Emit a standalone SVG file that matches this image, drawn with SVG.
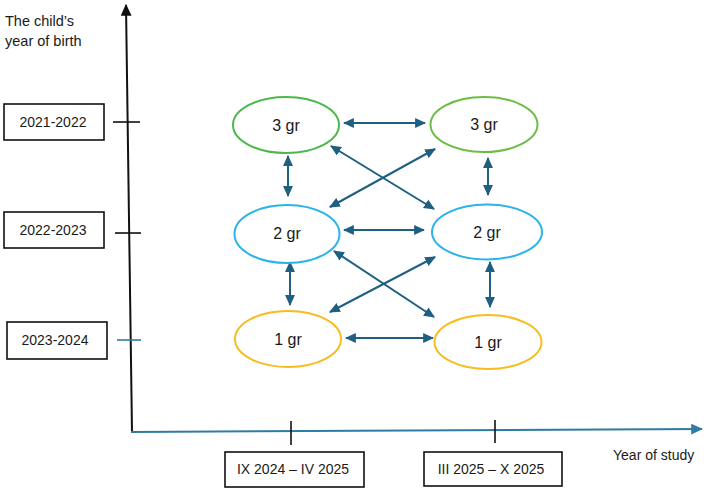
<svg xmlns="http://www.w3.org/2000/svg" width="706" height="491" viewBox="0 0 706 491">
<style>
text{font-family:"Liberation Sans",Arial,sans-serif;fill:#1a1a1a}
.box{fill:#fff;stroke:#111;stroke-width:1.6}
.lab{font-size:14px;text-anchor:middle}
.gr{font-size:16px;text-anchor:middle}
.con{stroke:#1f5f80;stroke-width:2;fill:none;marker-start:url(#ah);marker-end:url(#ah)}
.ell{fill:#fff;stroke-width:2}
</style>
<defs>
<marker id="ah" viewBox="0 0 10 10" refX="9" refY="5" markerWidth="11" markerHeight="11" markerUnits="userSpaceOnUse" orient="auto-start-reverse">
<path d="M0,0.5 L10,5 L0,9.5 Z" fill="#1f5f80"/>
</marker>
<marker id="axb" viewBox="0 0 10 10" refX="9" refY="5" markerWidth="12" markerHeight="12" markerUnits="userSpaceOnUse" orient="auto">
<path d="M0,0.5 L10,5 L0,9.5 Z" fill="#2e7ba5"/>
</marker>
<marker id="axk" viewBox="0 0 10 10" refX="9" refY="5" markerWidth="12" markerHeight="12" markerUnits="userSpaceOnUse" orient="auto">
<path d="M0,0.5 L10,5 L0,9.5 Z" fill="#111"/>
</marker>
</defs>

<g id="axes">
<line x1="132" y1="432" x2="126" y2="5" stroke="#111" stroke-width="2" marker-end="url(#axk)"/>
<line x1="131" y1="432" x2="702" y2="429" stroke="#2e7ba5" stroke-width="2" marker-end="url(#axb)"/>
<line x1="113" y1="122" x2="140" y2="122" stroke="#111" stroke-width="1.6"/>
<line x1="115" y1="233" x2="141" y2="233" stroke="#111" stroke-width="1.6"/>
<line x1="117" y1="340" x2="141" y2="340" stroke="#2e7ba5" stroke-width="1.6"/>
<line x1="291" y1="421" x2="291" y2="445" stroke="#111" stroke-width="1.6"/>
<line x1="495" y1="420" x2="495" y2="443" stroke="#111" stroke-width="1.6"/>
<text x="5" y="26" font-size="14.5px">The child’s</text>
<text x="5" y="46" font-size="14.5px">year of birth</text>
<text x="613" y="460" font-size="14px">Year of study</text>
</g>

<g id="by1"><rect class="box" x="4" y="104" width="100" height="36"/><text class="lab" x="53" y="127">2021-2022</text></g>
<g id="by2"><rect class="box" x="4" y="212" width="100" height="36"/><text class="lab" x="53" y="235">2022-2023</text></g>
<g id="by3"><rect class="box" x="7" y="322" width="100" height="37"/><text class="lab" x="55" y="345">2023-2024</text></g>

<g id="p1"><rect class="box" x="225" y="452" width="139" height="35"/><text class="lab" x="293" y="474">IX 2024 – IV 2025</text></g>
<g id="p2"><rect class="box" x="424" y="452" width="138" height="34"/><text class="lab" x="491" y="474">III 2025 – X 2025</text></g>

<g id="connectors">
<line class="con" x1="344" y1="123" x2="425" y2="123"/>
<line class="con" x1="344" y1="230" x2="424" y2="230"/>
<line class="con" x1="346" y1="338" x2="433" y2="338"/>
<line class="con" x1="288" y1="156" x2="288" y2="196"/>
<line class="con" x1="488" y1="158" x2="488" y2="195"/>
<line class="con" x1="290" y1="262" x2="290" y2="305"/>
<line class="con" x1="490" y1="262" x2="490" y2="307"/>
<line class="con" x1="331" y1="146" x2="434" y2="209"/>
<line class="con" x1="435" y1="149" x2="330" y2="207"/>
<line class="con" x1="334" y1="251" x2="434" y2="317"/>
<line class="con" x1="435" y1="257" x2="330" y2="312"/>
</g>

<g id="n3a"><ellipse class="ell" cx="286" cy="125" rx="53" ry="28" stroke="#4cb84a"/><text class="gr" x="286" y="131">3 gr</text></g>
<g id="n3b"><ellipse class="ell" cx="484" cy="124.5" rx="53.5" ry="27.5" stroke="#6cbd45"/><text class="gr" x="484" y="130">3 gr</text></g>
<g id="n2a"><ellipse class="ell" cx="287" cy="234" rx="52.5" ry="29" stroke="#2ab4ea"/><text class="gr" x="287" y="239">2 gr</text></g>
<g id="n2b"><ellipse class="ell" cx="487" cy="232" rx="55" ry="27.5" stroke="#2ab4ea"/><text class="gr" x="487" y="238">2 gr</text></g>
<g id="n1a"><ellipse class="ell" cx="288" cy="339" rx="53" ry="28" stroke="#f5bd1f"/><text class="gr" x="288" y="345">1 gr</text></g>
<g id="n1b"><ellipse class="ell" cx="488" cy="342" rx="53.5" ry="27" stroke="#f5bd1f"/><text class="gr" x="488" y="348">1 gr</text></g>
</svg>
